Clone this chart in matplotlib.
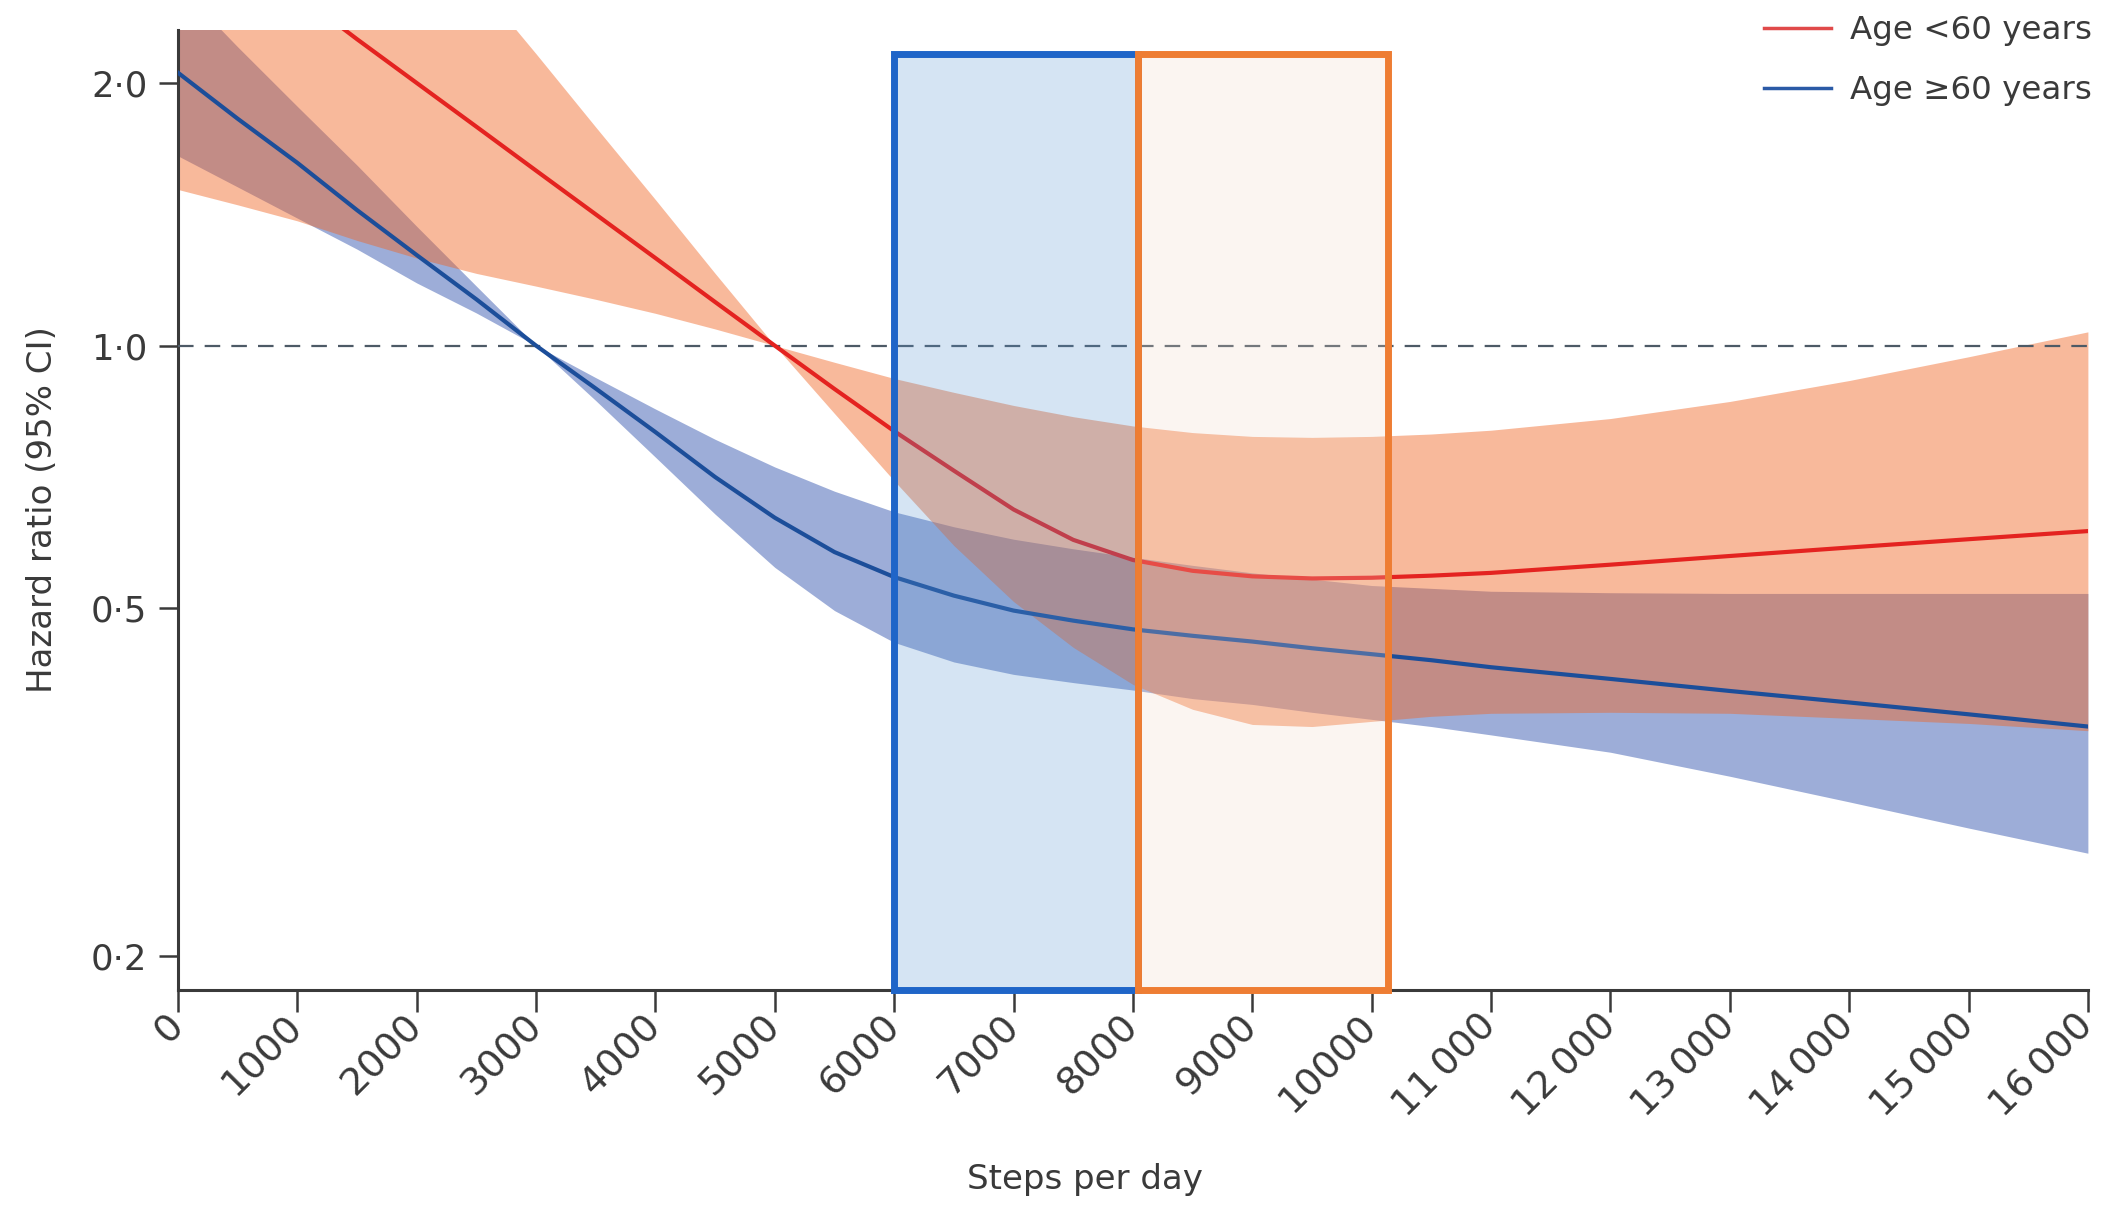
import matplotlib
matplotlib.use("Agg")
import matplotlib.pyplot as plt
from matplotlib.lines import Line2D
from matplotlib.patches import Rectangle
from matplotlib.ticker import NullLocator

# ---------------- data ----------------
steps = [0, 500, 1000, 1500, 2000, 2500, 3000, 3500, 4000, 4500, 5000, 5500,
         6000, 6500, 7000, 7500, 8000, 8500, 9000, 9500, 10000, 10500, 11000,
         12000, 13000, 14000, 15000, 16000]

# Age <60 years
hr_young = [3.18, 2.83, 2.53, 2.245, 2.000, 1.782, 1.587, 1.414, 1.260, 1.122, 1.000, 0.892,
            0.798, 0.719, 0.649, 0.599, 0.568, 0.552, 0.544, 0.541, 0.542, 0.545, 0.549,
            0.561, 0.574, 0.587, 0.600, 0.613]
lo_young = [1.51, 1.45, 1.39, 1.32, 1.26, 1.21, 1.17, 1.13, 1.089, 1.045, 1.000, 0.836,
            0.700, 0.590, 0.509, 0.451, 0.409, 0.383, 0.368, 0.366, 0.371, 0.376, 0.379,
            0.380, 0.379, 0.374, 0.369, 0.362]
hi_young = [6.8, 5.6, 4.6, 3.83, 3.16, 2.61, 2.16, 1.78, 1.47, 1.21, 1.000, 0.957,
            0.917, 0.884, 0.854, 0.829, 0.809, 0.795, 0.787, 0.785, 0.787, 0.792, 0.800,
            0.825, 0.863, 0.912, 0.971, 1.037]

# Age >=60 years
hr_old = [2.055, 1.82, 1.62, 1.43, 1.27, 1.13, 1.000, 0.893, 0.796, 0.707, 0.635, 0.580,
          0.543, 0.517, 0.497, 0.484, 0.473, 0.465, 0.458, 0.450, 0.443, 0.436, 0.428,
          0.415, 0.402, 0.390, 0.378, 0.366]
lo_old = [1.65, 1.52, 1.40, 1.29, 1.18, 1.09, 1.000, 0.865, 0.745, 0.641, 0.557, 0.497,
          0.457, 0.434, 0.420, 0.411, 0.403, 0.394, 0.388, 0.380, 0.373, 0.366, 0.358,
          0.342, 0.321, 0.300, 0.280, 0.262]
hi_old = [2.59, 2.20, 1.88, 1.61, 1.37, 1.17, 1.000, 0.919, 0.846, 0.781, 0.726, 0.681,
          0.645, 0.620, 0.600, 0.585, 0.572, 0.560, 0.549, 0.540, 0.531, 0.527, 0.523,
          0.521, 0.520, 0.520, 0.520, 0.520]

series_labels = ["Age <60 years", "Age \u226560 years"]

xtick_vals = list(range(0, 16001, 1000))
xtick_labels = ["0", "1000", "2000", "3000", "4000", "5000", "6000", "7000", "8000",
                "9000", "10000", "11\u2009000", "12\u2009000", "13\u2009000",
                "14\u2009000", "15\u2009000", "16\u2009000"]
ytick_vals = [0.2, 0.5, 1.0, 2.0]
ytick_labels = ["0\u00b72", "0\u00b75", "1\u00b70", "2\u00b70"]

blue_box = (6000, 8040)
orange_box = (8040, 10140)
box_top = 2.157
y_limits = (0.1826, 2.30)

# ---------------- figure ----------------
plt.rcParams["font.family"] = ["DejaVu Sans"]
TXT = "#3a3a3a"

fig = plt.figure(figsize=(21.06, 12.05), dpi=100)
ax = fig.add_axes([0.0845, 0.1784, 0.9069, 0.7967])
ax.set_yscale("log")

ax.fill_between(steps, lo_old, hi_old, color="#9dadd8", lw=0, zorder=1)
ax.fill_between(steps, lo_young, hi_young, color="#f06423", alpha=0.45, lw=0, zorder=2)
ax.axhline(1.0, color="#4d5a66", lw=1.6, dashes=(7, 5), zorder=3)
ax.plot(steps, hr_old, color="#1c4e9a", lw=3, zorder=4, solid_joinstyle="round")
ax.plot(steps, hr_young, color="#e42320", lw=3, zorder=4, solid_joinstyle="round")

# highlighted step ranges
for (x0, x1), fc, a in [(blue_box, "#5894d0", 0.25),
                        (orange_box, "#f2d8c6", 0.23)]:
    ax.add_patch(Rectangle((x0, y_limits[0]), x1 - x0, box_top - y_limits[0],
                           facecolor=fc, alpha=a, lw=0, zorder=5))
for (x0, x1), ec in [(blue_box, "#1f65c8"), (orange_box, "#ee7d33")]:
    ax.add_patch(Rectangle((x0, y_limits[0]), x1 - x0, box_top - y_limits[0],
                           fill=False, edgecolor=ec, lw=5, zorder=6, clip_on=False,
                           joinstyle="miter"))

ax.set_xlim(0, 16000)
ax.set_ylim(*y_limits)

for s in ["top", "right"]:
    ax.spines[s].set_visible(False)
for s in ["left", "bottom"]:
    ax.spines[s].set_linewidth(2.2)
    ax.spines[s].set_color("#3a3a3a")

ax.yaxis.set_minor_locator(NullLocator())
ax.set_yticks(ytick_vals)
ax.set_yticklabels(ytick_labels)
ax.set_xticks(xtick_vals)
ax.set_xticklabels(xtick_labels, rotation=45, ha="right", va="center",
                   rotation_mode="anchor")
ax.tick_params(axis="y", length=14, width=1.8, pad=8, labelsize=25.5,
               color="#3a3a3a", labelcolor=TXT)
ax.tick_params(axis="x", length=16, width=1.8, pad=6, labelsize=27.5,
               color="#3a3a3a", labelcolor=TXT)

ax.set_ylabel("Hazard ratio (95% CI)", fontsize=24.5, color=TXT)
ax.yaxis.set_label_coords(-0.0707, 0.5)
ax.yaxis.label.set_va("center")
ax.yaxis.label.set_ha("center")
ax.set_xlabel("Steps per day", fontsize=24.5, color=TXT)
ax.xaxis.set_label_coords(0.4749, -0.197)
ax.xaxis.label.set_va("center")

handles = [Line2D([], [], color="#e04a4a", lw=2.5),
           Line2D([], [], color="#2b5aa6", lw=2.5)]
fig.legend(handles, series_labels, loc="upper right", bbox_to_anchor=(0.9934, 0.9873),
           frameon=False, fontsize=23.4, handlelength=2.06, handletextpad=0.58,
           labelspacing=0.88, borderpad=0, borderaxespad=0, labelcolor=TXT)

fig.savefig("out.png", dpi=100)
